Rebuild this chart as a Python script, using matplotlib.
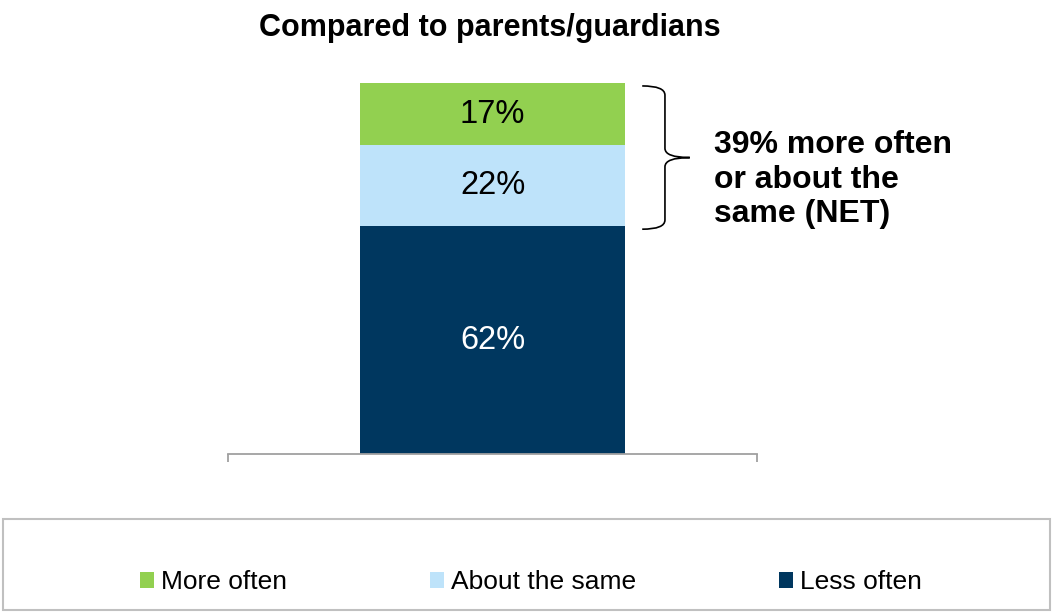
import numpy as np
import matplotlib.pyplot as plt
from matplotlib.path import Path
from matplotlib.patches import PathPatch, Rectangle

plt.rcParams['font.family'] = ['Liberation Sans', 'DejaVu Sans']

title = "Compared to parents/guardians"
categories = ["Less often", "About the same", "More often"]
values = [62, 22, 17]
colors = ["#00375F", "#BEE3FA", "#92D050"]
label_colors = ["white", "black", "black"]
net_value = 39
net_text = "% more often\nor about the\nsame (NET)"

fig = plt.figure(figsize=(10.54, 6.14), dpi=100)
ax = fig.add_axes([228 / 1054, (614 - 454) / 614, 529 / 1054, 371 / 614])

bottom = 0
bars = {}
for cat, val, col, lc in zip(categories, values, colors, label_colors):
    b = ax.bar(0, val, width=0.5, bottom=bottom, color=col, label=cat)
    bars[cat] = b
    ax.text(0, bottom + val / 2, f"{val}%", ha="center", va="center",
            fontsize=23.5, color=lc)
    bottom += val

ax.set_xlim(-0.5, 0.5)
ax.set_ylim(0, sum(values))
for s in ["top", "right", "left"]:
    ax.spines[s].set_visible(False)
ax.spines["bottom"].set_color("#A0A0A0")
ax.spines["bottom"].set_linewidth(1.3)
ax.set_yticks([])
ax.set_xticks([-0.5, 0.5])
ax.set_xticklabels([])
ax.tick_params(axis="x", direction="out", length=6, width=1.3, color="#A0A0A0")

# brace around the top two segments (more often + about the same)
y0 = values[0] - 0.8
y1 = sum(values) - 0.8
ym = (y0 + y1) / 2
xa, xb, xc = 0.283, 0.326, 0.373
r = 2.5
verts = [
    (xa, y1), (xb, y1), (xb, y1 - r),
    (xb, ym + r), (xb, ym), (xc, ym),
    (xb, ym), (xb, ym - r),
    (xb, y0 + r), (xb, y0), (xa, y0),
]
codes = [Path.MOVETO, Path.CURVE3, Path.CURVE3,
         Path.LINETO, Path.CURVE3, Path.CURVE3,
         Path.CURVE3, Path.CURVE3,
         Path.LINETO, Path.CURVE3, Path.CURVE3]
ax.add_patch(PathPatch(Path(verts, codes), fill=False, edgecolor="black",
                       linewidth=1.2, clip_on=False))

ax.text(0.419, ym - 6, f"{net_value}{net_text}", ha="left", va="center",
        fontsize=23, fontweight="bold", linespacing=1.18, clip_on=False)

fig.text(490 / 1054, 1 - 28 / 614, title, ha="center", va="center",
         fontsize=22, fontweight="bold")

# legend box
fig.patches.append(Rectangle((3 / 1054, 4 / 614), 1047 / 1054, 91 / 614,
                             transform=fig.transFigure, fill=False,
                             edgecolor="#C0C0C0", linewidth=1.5))
handles = [bars[c] for c in categories[::-1]]
fig.legend(handles, categories[::-1], loc="center",
           bbox_to_anchor=(531 / 1054, 1 - 582 / 614), ncol=3, frameon=False,
           fontsize=19, handlelength=0.55, handleheight=0.55,
           handletextpad=0.26, columnspacing=5.4)

fig.savefig("out.png", dpi=100)
